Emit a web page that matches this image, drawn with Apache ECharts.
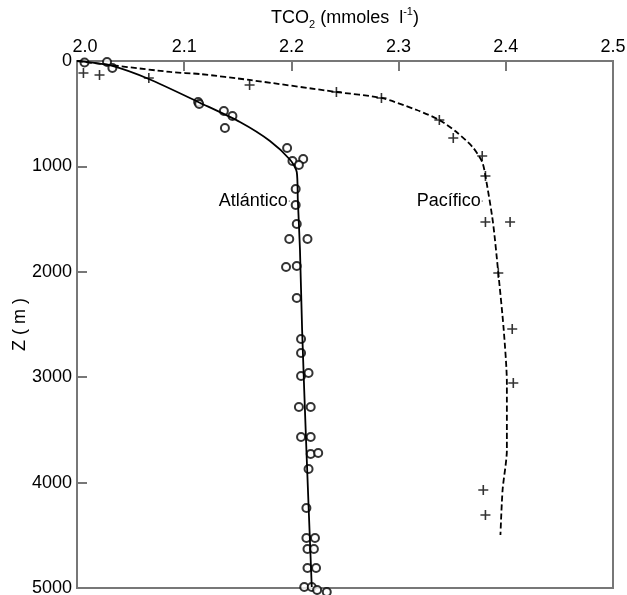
<!DOCTYPE html>
<html><head><meta charset="utf-8">
<script src="https://cdn.jsdelivr.net/npm/echarts@6/dist/echarts.min.js"></script>
<style>html,body{margin:0;padding:0;background:#fff}#c{width:627px;height:595px}</style>
</head><body><div id="c"></div>
<script>
// Atlantic observations (circles)
const atlTCO2 = [2.007, 2.028, 2.033, 2.113, 2.114, 2.137, 2.145, 2.138, 2.196, 2.201, 2.211, 2.207, 2.204, 2.204, 2.205, 2.198, 2.215, 2.195, 2.205, 2.205, 2.209, 2.209, 2.209, 2.216, 2.207, 2.218, 2.209, 2.218, 2.218, 2.225, 2.216, 2.214, 2.214, 2.222, 2.215, 2.221, 2.215, 2.223, 2.212, 2.219, 2.224, 2.233];
const atlDepth = [15, 10, 66, 389, 408, 474, 522, 636, 825, 949, 930, 987, 1214, 1366, 1546, 1689, 1689, 1954, 1945, 2249, 2638, 2770, 2989, 2960, 3283, 3283, 3567, 3567, 3729, 3719, 3871, 4241, 4526, 4526, 4630, 4630, 4810, 4810, 4990, 4990, 5019, 5038];
// Pacific observations (crosses)
const pacTCO2 = [2.006, 2.021, 2.067, 2.161, 2.242, 2.284, 2.338, 2.351, 2.378, 2.381, 2.381, 2.404, 2.393, 2.406, 2.407, 2.379, 2.381];
const pacDepth = [114, 133, 161, 228, 294, 351, 560, 731, 901, 1091, 1528, 1528, 2011, 2543, 3055, 4070, 4307];
// Fitted profiles
const atlLineTCO2 = [2.000, 2.010, 2.033, 2.067, 2.115, 2.152, 2.180, 2.199, 2.205, 2.206, 2.208, 2.210, 2.214, 2.219];
const atlLineDepth = [0, 10, 47, 171, 398, 579, 759, 939, 1053, 1319, 1793, 2552, 3691, 4991];
const pacLineTCO2 = [2.000, 2.087, 2.115, 2.161, 2.242, 2.284, 2.317, 2.338, 2.354, 2.369, 2.378, 2.381, 2.388, 2.393, 2.398, 2.401, 2.401, 2.397, 2.395];
const pacLineDepth = [0, 104, 124, 180, 294, 351, 465, 560, 674, 816, 958, 1091, 1528, 2011, 2543, 3055, 3691, 4070, 4497];
// Annotations
const annoNames = ['Atlántico', 'Pacífico'];
const annoTCO2 = [2.198, 2.378];
const annoDepth = [1328, 1328];
// Tick labels
const xTickLabels = ['2.0', '2.1', '2.2', '2.3', '2.4', '2.5'];
const yTickLabels = ['0', '1000', '2000', '3000', '4000', '5000'];

const zip = (a, b) => a.map((v, i) => [v, b[i]]);
const FONT = 'Liberation Sans, Arial, sans-serif';
const AX = '#777';
const TXT = '#000';
const plusPath = 'path://M4.2,0H5.8V4.2H10V5.8H5.8V10H4.2V5.8H0V4.2H4.2Z';

const chart = echarts.init(document.getElementById('c'), null, {renderer: 'canvas'});
chart.setOption({
  animation: false,
  backgroundColor: '#fff',
  textStyle: {fontFamily: FONT},
  grid: {left: 77, right: 14, top: 61, bottom: 7, show: true, borderColor: AX, borderWidth: 2,
         containLabel: false, outerBoundsMode: 'none'},
  xAxis: {
    type: 'value', position: 'top', min: 2.0, max: 2.5, interval: 0.1,
    name: '{a|TCO}{s|2}{a| (mmoles  l}{p|-1}{a|)}',
    nameLocation: 'middle', nameGap: 31, nameMoveOverlap: false,
    nameTextStyle: {
      rich: {
        a: {fontSize: 18, fontFamily: FONT, color: TXT, lineHeight: 24},
        s: {fontSize: 11, fontFamily: FONT, color: TXT, lineHeight: 11, verticalAlign: 'bottom'},
        p: {fontSize: 11, fontFamily: FONT, color: TXT, lineHeight: 11, verticalAlign: 'top'}
      }
    },
    axisLine: {show: true, onZero: false, lineStyle: {color: AX, width: 2}},
    axisTick: {show: true, inside: true, length: 10, lineStyle: {color: AX, width: 2}},
    splitLine: {show: false},
    axisLabel: {
      margin: 5, fontSize: 18, color: TXT, fontFamily: FONT,
      formatter: (v) => {
        const i = Math.round((v - 2.0) / 0.1);
        const t = xTickLabels[i];
        return i === 0 ? '{f|' + t + '}' : t;
      },
      rich: {f: {fontSize: 18, color: TXT, fontFamily: FONT, padding: [0, 0, 0, 16]}}
    }
  },
  yAxis: {
    type: 'value', inverse: true, min: 0, max: 5000, interval: 1000,
    name: 'Z ( m )', nameLocation: 'middle', nameGap: 48, nameMoveOverlap: false,
    nameTextStyle: {fontSize: 18, color: TXT, fontFamily: FONT},
    axisLine: {show: true, onZero: false, lineStyle: {color: AX, width: 2}},
    axisTick: {show: true, inside: true, length: 10, lineStyle: {color: AX, width: 2}},
    splitLine: {show: false},
    axisLabel: {
      margin: 5, fontSize: 18, color: TXT, fontFamily: FONT,
      formatter: (v) => yTickLabels[Math.round(v / 1000)]
    }
  },
  series: [
    {
      type: 'line', data: zip(atlLineTCO2, atlLineDepth), smooth: 0.25,
      showSymbol: false, clip: false,
      lineStyle: {color: '#000', width: 1.8}
    },
    {
      type: 'line', data: zip(pacLineTCO2, pacLineDepth), smooth: 0.25,
      showSymbol: false, clip: false,
      lineStyle: {color: '#000', width: 1.8, type: [6, 3]}
    },
    {
      type: 'scatter', data: zip(atlTCO2, atlDepth), clip: false,
      symbol: 'emptyCircle', symbolSize: 8,
      itemStyle: {color: '#000', borderColor: '#000', borderWidth: 1.3}
    },
    {
      type: 'scatter', data: zip(pacTCO2, pacDepth), clip: false,
      symbol: plusPath, symbolSize: 10,
      itemStyle: {color: '#000'}
    },
    {
      type: 'scatter', clip: false, silent: true,
      data: annoNames.map((n, i) => ({name: n, value: [annoTCO2[i], annoDepth[i]]})),
      symbolSize: 1, itemStyle: {color: '#000', opacity: 1},
      label: {show: true, position: 'left', distance: 1, formatter: (p) => p.name,
        fontSize: 18, color: TXT, opacity: 1, textBorderWidth: 0, fontFamily: FONT}
    }
  ]
});
</script>
</body></html>
